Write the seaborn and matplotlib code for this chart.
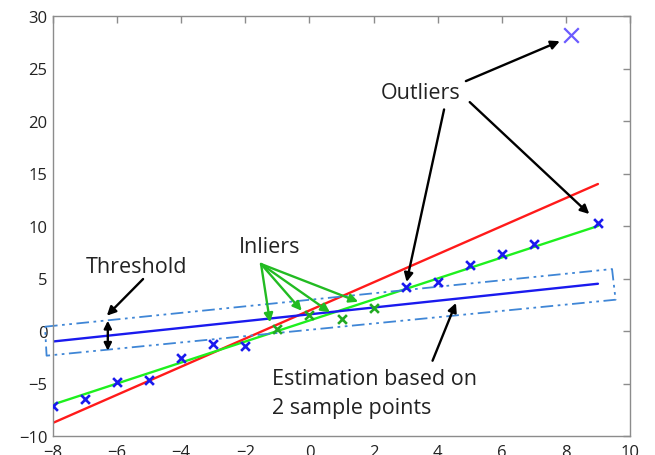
import matplotlib
matplotlib.use("Agg")
import matplotlib.pyplot as plt
import seaborn as sns
import pandas as pd

# Observed samples
sample_x = [-8, -7, -6, -5, -4, -3, -2, 3, 4, 5, 6, 7, 9]
sample_y = [-7.1, -6.5, -4.9, -4.7, -2.6, -1.2, -1.4, 4.2, 4.7, 6.3, 7.3, 8.3, 10.3]
inlier_x = [-1, 0, 1, 2]
inlier_y = [0.2, 1.5, 1.1, 2.2]
far_x = [8.15]
far_y = [28.2]

# Fitted lines (end points)
line_x = [-8, 9]
red_y = [-8.75, 14.0]
green_y = [-7.0, 10.0]
blue_y = [-1.0, 4.5]

# Threshold band outline
band_x = [-8.25, 9.44, 9.55, -8.2, -8.25]
band_y = [0.41, 5.9, 2.98, -2.35, 0.41]

x_ticks = [-8, -6, -4, -2, 0, 2, 4, 6, 8, 10]
y_ticks = [-10, -5, 0, 5, 10, 15, 20, 25, 30]

sns.set_style("white")
plt.rcParams["font.family"] = ["Open Sans", "DejaVu Sans"]

fig = plt.figure(figsize=(6.55, 4.56), dpi=100)
ax = fig.add_axes([53 / 655, 19 / 456, 577 / 655, 420 / 456])

lines = pd.DataFrame({
    "x": line_x * 3,
    "y": red_y + green_y + blue_y,
    "fit": ["red"] * 2 + ["green"] * 2 + ["blue"] * 2,
})
sns.lineplot(data=lines, x="x", y="y", hue="fit",
             palette={"red": "#ff1a1a", "green": "#1ef01e", "blue": "#1a1aee"},
             lw=1.7, legend=False, ax=ax, sort=False)

ax.plot(band_x, band_y, color="#3f86d6", lw=1.3, dashes=(7, 2.5, 1.5, 2.5, 1.5, 2.5), clip_on=False)

sns.scatterplot(x=sample_x, y=sample_y, marker="x", color="#1a1aee", s=40, linewidth=1.9, ax=ax, zorder=5)
sns.scatterplot(x=inlier_x, y=inlier_y, marker="x", color="#22aa22", s=40, linewidth=1.9, ax=ax, zorder=5)
sns.scatterplot(x=far_x, y=far_y, marker="x", color="#6b5bff", s=110, linewidth=1.6, ax=ax, zorder=5)

ax.set_xlim(-8, 10)
ax.set_ylim(-10, 30)
ax.set_xticks(x_ticks)
ax.set_yticks(y_ticks)
ax.set_xlabel("")
ax.set_ylabel("")
for s in ax.spines.values():
    s.set_color("#8c8c8c")
    s.set_linewidth(1.0)
ax.tick_params(direction="in", length=5, width=1, color="#8c8c8c", labelsize=12,
               labelcolor="#222222", top=True, right=True)
ax.tick_params(axis="y", pad=4)
ax.tick_params(axis="x", pad=6)

black_arrow = dict(arrowstyle="-|>", color="black", lw=1.7, mutation_scale=13, shrinkA=0, shrinkB=0)
green_arrow = dict(arrowstyle="-|>", color="#22bb22", lw=1.7, mutation_scale=13, shrinkA=0, shrinkB=0)
text_kw = dict(fontsize=15.5, color="#222222")

# Threshold
ax.text(-5.38, 6.1, "Threshold", ha="center", va="center", **text_kw)
ax.annotate("", xy=(-6.32, 1.46), xytext=(-5.19, 4.95), arrowprops=black_arrow)
ax.annotate("", xy=(-6.29, 0.98), xytext=(-6.29, -1.88),
            arrowprops=dict(arrowstyle="<|-|>", color="black", lw=1.7, mutation_scale=11, shrinkA=0, shrinkB=0))

# Inliers
ax.text(-1.25, 8.0, "Inliers", ha="center", va="center", **text_kw)
for hx, hy in [(-1.23, 0.83), (-0.24, 1.93), (0.64, 1.78), (1.52, 2.79)]:
    ax.annotate("", xy=(hx, hy), xytext=(-1.51, 6.38), arrowprops=green_arrow)

# Outliers
ax.text(3.48, 22.76, "Outliers", ha="center", va="center", **text_kw)
ax.annotate("", xy=(7.81, 27.6), xytext=(4.88, 23.8), arrowprops=black_arrow)
ax.annotate("", xy=(8.73, 11.14), xytext=(5.0, 21.8), arrowprops=black_arrow)
ax.annotate("", xy=(3.03, 4.67), xytext=(4.2, 21.1), arrowprops=black_arrow)

# Estimate from two samples
ax.text(-1.17, -4.57, "Estimation based on", ha="left", va="center", **text_kw)
ax.text(-1.17, -7.33, "2 sample points", ha="left", va="center", **text_kw)
ax.annotate("", xy=(4.57, 2.67), xytext=(3.84, -2.83), arrowprops=black_arrow)

fig.savefig("out.png", dpi=100)
